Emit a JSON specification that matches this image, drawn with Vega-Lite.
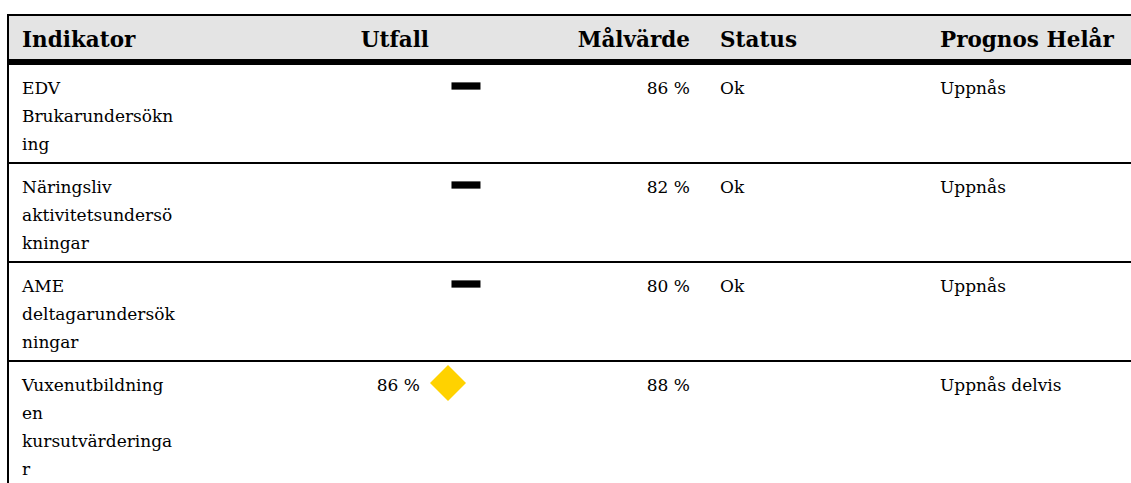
{
  "$schema": "https://vega.github.io/schema/vega-lite/v6.json",
  "width": 1124,
  "height": 483,
  "padding": {"left": 7, "top": 0, "right": 0, "bottom": 0},
  "autosize": {"type": "none"},
  "background": "#ffffff",
  "config": {"view": {"stroke": null}},
  "datasets": {
    "celler": [
      {"rad": 0, "kol": 0, "text": "Indikator"},
      {"rad": 0, "kol": 1, "text": "Utfall"},
      {"rad": 0, "kol": 2, "text": "Målvärde"},
      {"rad": 0, "kol": 3, "text": "Status"},
      {"rad": 0, "kol": 4, "text": "Prognos Helår"},
      {"rad": 1, "kol": 0, "text": ["EDV", "Brukarundersökn", "ing"]},
      {"rad": 1, "kol": 2, "text": "86 %"},
      {"rad": 1, "kol": 3, "text": "Ok"},
      {"rad": 1, "kol": 4, "text": "Uppnås"},
      {"rad": 2, "kol": 0, "text": ["Näringsliv", "aktivitetsundersö", "kningar"]},
      {"rad": 2, "kol": 2, "text": "82 %"},
      {"rad": 2, "kol": 3, "text": "Ok"},
      {"rad": 2, "kol": 4, "text": "Uppnås"},
      {"rad": 3, "kol": 0, "text": ["AME", "deltagarundersök", "ningar"]},
      {"rad": 3, "kol": 2, "text": "80 %"},
      {"rad": 3, "kol": 3, "text": "Ok"},
      {"rad": 3, "kol": 4, "text": "Uppnås"},
      {"rad": 4, "kol": 0, "text": ["Vuxenutbildning", "en", "kursutvärderinga", "r"]},
      {"rad": 4, "kol": 1, "text": "86 %"},
      {"rad": 4, "kol": 2, "text": "88 %"},
      {"rad": 4, "kol": 4, "text": "Uppnås delvis"}
    ],
    "utfallsstatus": [
      {"rad": 1, "status": "Saknas"},
      {"rad": 2, "status": "Saknas"},
      {"rad": 3, "status": "Saknas"},
      {"rad": 4, "status": "Delvis"}
    ]
  },
  "layer": [
    {
      "data": {"name": "celler"},
      "transform": [{"filter": "datum.rad == 0 && datum.kol == 0"}],
      "mark": {"type": "rect", "color": "#e4e4e4"},
      "encoding": {
        "y": {"datum": 0, "type": "quantitative", "scale": {"type": "linear", "domain": [0, 1, 2, 3, 4, 5], "range": [15, 64, 163, 262, 361, 490], "zero": false, "nice": false}, "axis": null},
        "y2": {"datum": 1}
      }
    },
    {
      "data": {"name": "celler"},
      "transform": [{"filter": "datum.kol == 0"}],
      "mark": {"type": "rule", "color": "#000000", "strokeWidth": 2},
      "encoding": {
        "y": {"field": "rad", "type": "quantitative", "scale": {"type": "linear", "domain": [0, 1, 2, 3, 4, 5], "range": [15, 64, 163, 262, 361, 490], "zero": false, "nice": false}, "axis": null}
      }
    },
    {
      "data": {"name": "celler"},
      "transform": [{"filter": "datum.kol == 0 && datum.rad == 1"}],
      "mark": {"type": "rule", "color": "#000000", "strokeWidth": 5, "yOffset": -2.5},
      "encoding": {
        "y": {"field": "rad", "type": "quantitative", "scale": {"type": "linear", "domain": [0, 1, 2, 3, 4, 5], "range": [15, 64, 163, 262, 361, 490], "zero": false, "nice": false}, "axis": null}
      }
    },
    {
      "data": {"name": "celler"},
      "transform": [{"filter": "datum.kol == 0 && datum.rad == 0"}],
      "mark": {"type": "rule", "color": "#000000", "strokeWidth": 2},
      "encoding": {
        "x": {"value": 1},
        "y": {"datum": 0, "type": "quantitative", "scale": {"type": "linear", "domain": [0, 1, 2, 3, 4, 5], "range": [15, 64, 163, 262, 361, 490], "zero": false, "nice": false}, "axis": null},
        "y2": {"datum": 5}
      }
    },
    {
      "data": {"name": "celler"},
      "transform": [{"filter": "datum.rad == 0 && (datum.kol == 0 || datum.kol >= 3)"}],
      "mark": {"type": "text", "align": "left", "baseline": "alphabetic", "dy": 32, "font": "DejaVu Serif", "fontWeight": "bold", "fontSize": 21.5, "color": "#000000"},
      "encoding": {
        "x": {"field": "kol", "type": "quantitative", "scale": {"type": "linear", "domain": [0, 1, 2, 3, 4], "range": [15, 422, 683, 713, 933], "zero": false, "nice": false}, "axis": null},
        "y": {"field": "rad", "type": "quantitative", "scale": {"type": "linear", "domain": [0, 1, 2, 3, 4, 5], "range": [15, 64, 163, 262, 361, 490], "zero": false, "nice": false}, "axis": null},
        "text": {"field": "text", "type": "nominal"}
      }
    },
    {
      "data": {"name": "celler"},
      "transform": [{"filter": "datum.rad == 0 && (datum.kol == 1 || datum.kol == 2)"}],
      "mark": {"type": "text", "align": "right", "baseline": "alphabetic", "dy": 32, "font": "DejaVu Serif", "fontWeight": "bold", "fontSize": 21.5, "color": "#000000"},
      "encoding": {
        "x": {"field": "kol", "type": "quantitative", "scale": {"type": "linear", "domain": [0, 1, 2, 3, 4], "range": [15, 422, 683, 713, 933], "zero": false, "nice": false}, "axis": null},
        "y": {"field": "rad", "type": "quantitative", "scale": {"type": "linear", "domain": [0, 1, 2, 3, 4, 5], "range": [15, 64, 163, 262, 361, 490], "zero": false, "nice": false}, "axis": null},
        "text": {"field": "text", "type": "nominal"}
      }
    },
    {
      "data": {"name": "celler"},
      "transform": [{"filter": "datum.rad > 0 && (datum.kol == 0 || datum.kol >= 3)"}],
      "mark": {"type": "text", "align": "left", "baseline": "alphabetic", "dy": 30, "lineHeight": 28, "font": "DejaVu Serif", "fontSize": 17, "color": "#000000"},
      "encoding": {
        "x": {"field": "kol", "type": "quantitative", "scale": {"type": "linear", "domain": [0, 1, 2, 3, 4], "range": [15, 422, 683, 713, 933], "zero": false, "nice": false}, "axis": null},
        "y": {"field": "rad", "type": "quantitative", "scale": {"type": "linear", "domain": [0, 1, 2, 3, 4, 5], "range": [15, 64, 163, 262, 361, 490], "zero": false, "nice": false}, "axis": null},
        "text": {"field": "text", "type": "nominal"}
      }
    },
    {
      "data": {"name": "celler"},
      "transform": [{"filter": "datum.rad > 0 && datum.kol == 2"}],
      "mark": {"type": "text", "align": "right", "baseline": "alphabetic", "dy": 30, "lineHeight": 28, "font": "DejaVu Serif", "fontSize": 17, "color": "#000000"},
      "encoding": {
        "x": {"field": "kol", "type": "quantitative", "scale": {"type": "linear", "domain": [0, 1, 2, 3, 4], "range": [15, 422, 683, 713, 933], "zero": false, "nice": false}, "axis": null},
        "y": {"field": "rad", "type": "quantitative", "scale": {"type": "linear", "domain": [0, 1, 2, 3, 4, 5], "range": [15, 64, 163, 262, 361, 490], "zero": false, "nice": false}, "axis": null},
        "text": {"field": "text", "type": "nominal"}
      }
    },
    {
      "data": {"name": "celler"},
      "transform": [{"filter": "datum.rad > 0 && datum.kol == 1"}],
      "mark": {"type": "text", "align": "right", "baseline": "alphabetic", "dy": 30, "dx": -9, "lineHeight": 28, "font": "DejaVu Serif", "fontSize": 17, "color": "#000000"},
      "encoding": {
        "x": {"field": "kol", "type": "quantitative", "scale": {"type": "linear", "domain": [0, 1, 2, 3, 4], "range": [15, 422, 683, 713, 933], "zero": false, "nice": false}, "axis": null},
        "y": {"field": "rad", "type": "quantitative", "scale": {"type": "linear", "domain": [0, 1, 2, 3, 4, 5], "range": [15, 64, 163, 262, 361, 490], "zero": false, "nice": false}, "axis": null},
        "text": {"field": "text", "type": "nominal"}
      }
    },
    {
      "data": {"name": "utfallsstatus"},
      "mark": {"type": "point", "filled": true, "opacity": 1, "strokeWidth": 0, "xOffset": 19, "yOffset": 22},
      "encoding": {
        "x": {"datum": 1, "type": "quantitative", "scale": {"type": "linear", "domain": [0, 1, 2, 3, 4], "range": [15, 422, 683, 713, 933], "zero": false, "nice": false}, "axis": null},
        "y": {"field": "rad", "type": "quantitative", "scale": {"type": "linear", "domain": [0, 1, 2, 3, 4, 5], "range": [15, 64, 163, 262, 361, 490], "zero": false, "nice": false}, "axis": null},
        "shape": {"field": "status", "type": "nominal", "scale": {"domain": ["Saknas", "Delvis"], "range": ["M0.24,-0.25L2.24,-0.25L2.24,0.25L0.24,0.25Z", "diamond"]}, "legend": null},
        "color": {"field": "status", "type": "nominal", "scale": {"domain": ["Saknas", "Delvis"], "range": ["#000000", "#FFD200"]}, "legend": null},
        "size": {"field": "status", "type": "nominal", "scale": {"domain": ["Saknas", "Delvis"], "range": [841, 1296]}, "legend": null}
      }
    }
  ]
}
